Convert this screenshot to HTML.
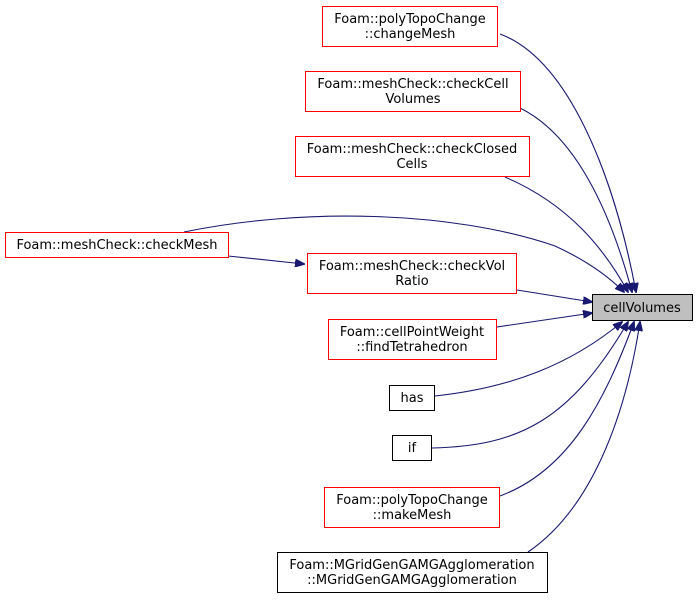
<!DOCTYPE html>
<html><head><meta charset="utf-8"><style>
body{margin:0;background:#fff;width:699px;height:599px;overflow:hidden}
svg text{font-family:"DejaVu Sans","Liberation Sans",sans-serif;font-size:13px;text-anchor:middle;fill:#000}
</style></head><body>
<svg width="699" height="599" viewBox="0 0 699 599" xmlns="http://www.w3.org/2000/svg">
<defs><marker id="a" markerWidth="10" markerHeight="8" refX="9" refY="4" orient="auto" markerUnits="userSpaceOnUse"><path d="M0,0L10,4L0,8z" fill="#191970" stroke="#191970"/></marker></defs>
<g fill="none" stroke="#191970" stroke-width="1.1">
<path d="M500,34 C570,60 615,180 636,292" marker-end="url(#a)"/>
<path d="M520,108 C575,135 610,210 632,292" marker-end="url(#a)"/>
<path d="M505,177 C570,205 605,250 628,292" marker-end="url(#a)"/>
<path d="M184,232 C300,208 450,210 555,246 C590,262 610,278 624,292" marker-end="url(#a)"/>
<path d="M228,256 L304,264" marker-end="url(#a)"/>
<path d="M517,290 L592,302" marker-end="url(#a)"/>
<path d="M497,327 L592,313" marker-end="url(#a)"/>
<path d="M435,396 C510,388 570,365 622,322" marker-end="url(#a)"/>
<path d="M432,448 C520,446 570,420 628,322" marker-end="url(#a)"/>
<path d="M500,496 C570,470 605,400 634,322" marker-end="url(#a)"/>
<path d="M528,552 C590,510 625,420 640,322" marker-end="url(#a)"/>
</g>
<g stroke-width="1" fill="#fff">
<rect x="322.5" y="6.5" width="175" height="40" stroke="#f00"/>
<rect x="305.5" y="71.5" width="215" height="40" stroke="#f00"/>
<rect x="295.5" y="136.5" width="234" height="40" stroke="#f00"/>
<rect x="5.5" y="232.5" width="223" height="25" stroke="#f00"/>
<rect x="307.5" y="253.5" width="209" height="40" stroke="#f00"/>
<rect x="592.5" y="294.5" width="100" height="26" stroke="#000" fill="#bfbfbf"/>
<rect x="328.5" y="319.5" width="168" height="40" stroke="#f00"/>
<rect x="389.5" y="385.5" width="45" height="25" stroke="#000"/>
<rect x="392.5" y="435.5" width="39" height="25" stroke="#000"/>
<rect x="324.5" y="487.5" width="175" height="40" stroke="#f00"/>
<rect x="277.5" y="552.5" width="270" height="40" stroke="#000"/>
</g>
<text x="410" y="23">Foam::polyTopoChange</text><text x="410" y="38">::changeMesh</text>
<text x="413" y="88">Foam::meshCheck::checkCell</text><text x="413" y="103">Volumes</text>
<text x="412" y="153">Foam::meshCheck::checkClosed</text><text x="412" y="168">Cells</text>
<text x="117" y="249">Foam::meshCheck::checkMesh</text>
<text x="412" y="270">Foam::meshCheck::checkVol</text><text x="412" y="285">Ratio</text>
<text x="642" y="312">cellVolumes</text>
<text x="412" y="336">Foam::cellPointWeight</text><text x="412" y="351">::findTetrahedron</text>
<text x="412" y="402">has</text>
<text x="412" y="452">if</text>
<text x="412" y="504">Foam::polyTopoChange</text><text x="412" y="519">::makeMesh</text>
<text x="412" y="569">Foam::MGridGenGAMGAgglomeration</text><text x="412" y="584">::MGridGenGAMGAgglomeration</text>
</svg>
</body></html>
